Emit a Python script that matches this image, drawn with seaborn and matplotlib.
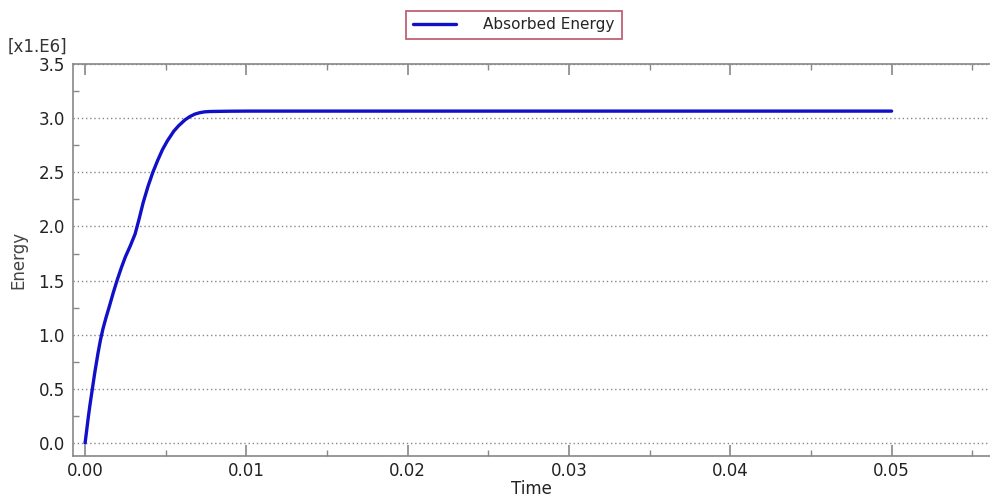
import numpy as np
import pandas as pd
import matplotlib
matplotlib.use("Agg")
import matplotlib.pyplot as plt
import seaborn as sns
from matplotlib.ticker import MultipleLocator, FormatStrFormatter
from matplotlib.lines import Line2D

time = [0.0, 0.0001, 0.0002, 0.0003, 0.00045, 0.0006, 0.0008, 0.00095, 0.0011,
        0.0013, 0.0015, 0.00175, 0.002, 0.00225, 0.0025, 0.0028, 0.0031,
        0.00335, 0.0036, 0.0039, 0.0042, 0.0045, 0.0048, 0.0051, 0.0055,
        0.0058, 0.0062, 0.0065, 0.0068, 0.0071, 0.0074, 0.0077, 0.008,
        0.009, 0.01, 0.02, 0.03, 0.04, 0.05]
energy = [0.0, 0.12, 0.24, 0.35, 0.5, 0.65, 0.83, 0.95, 1.05,
          1.16, 1.26, 1.39, 1.51, 1.62, 1.72, 1.82, 1.93,
          2.07, 2.22, 2.37, 2.5, 2.61, 2.71, 2.79, 2.88,
          2.93, 2.985, 3.015, 3.037, 3.05, 3.058, 3.061, 3.062,
          3.064, 3.065, 3.065, 3.065, 3.065, 3.065]
series_name = "Absorbed Energy"

df = pd.DataFrame({"Time": time, "Energy": energy, "series": series_name})

sns.set_theme(style="white")
plt.rcParams['font.family'] = ['DejaVu Sans']

fig = plt.figure(figsize=(9.9, 4.97), dpi=100)
ax = fig.add_axes([73/990, 1-456/497, 1-73/990, (456-64)/497])

line_color = "#1010c8"
sns.lineplot(data=df, x="Time", y="Energy", hue="series", palette=[line_color],
             linewidth=2.4, ax=ax, legend=False)
ax.lines[0].set_solid_joinstyle('round')

ax.set_xlim(-0.00075, 0.0561)
ax.set_ylim(-0.12, 3.5)
ax.xaxis.set_major_locator(MultipleLocator(0.01))
ax.xaxis.set_minor_locator(MultipleLocator(0.005))
ax.yaxis.set_major_locator(MultipleLocator(0.5))
ax.yaxis.set_minor_locator(MultipleLocator(0.25))
ax.xaxis.set_major_formatter(FormatStrFormatter('%.2f'))
ax.yaxis.set_major_formatter(FormatStrFormatter('%.1f'))

for s in ['left', 'bottom', 'top']:
    ax.spines[s].set_color('#888888')
    ax.spines[s].set_linewidth(1.2)
ax.spines['right'].set_visible(False)

ax.tick_params(axis='both', which='both', direction='in', colors='#888888',
               labelcolor='#222222', labelsize=12, top=True, bottom=True, left=True)
ax.tick_params(axis='x', which='major', length=8, width=1.2, pad=4)
ax.tick_params(axis='x', which='minor', length=4, width=1.0)
ax.tick_params(axis='y', which='major', length=0, pad=6)
ax.tick_params(axis='y', which='minor', length=4, width=1.0)

ax.yaxis.grid(True, which='major', linestyle=(0, (1, 2)), color='#888888', linewidth=1.0)
ax.xaxis.grid(False)

ax.set_xlabel("Time", fontsize=12, color='#222222', labelpad=0)
ax.set_ylabel("Energy", fontsize=12, color='#444444', labelpad=8)

fig.text(8/990, 1-47/497, "[x1.E6]", fontsize=12, color='#333333', va='center', ha='left')

handle = Line2D([], [], color=line_color, linewidth=2.4)
leg = fig.legend([handle], [series_name], loc='center', bbox_to_anchor=(514/990, 1-25/497),
                 frameon=True, fancybox=False, fontsize=11, handlelength=2.8,
                 handletextpad=1.8, borderpad=0.45)
leg.get_frame().set_edgecolor('#b03a50')
leg.get_frame().set_linewidth(1.3)

fig.savefig("out.png", dpi=100)
